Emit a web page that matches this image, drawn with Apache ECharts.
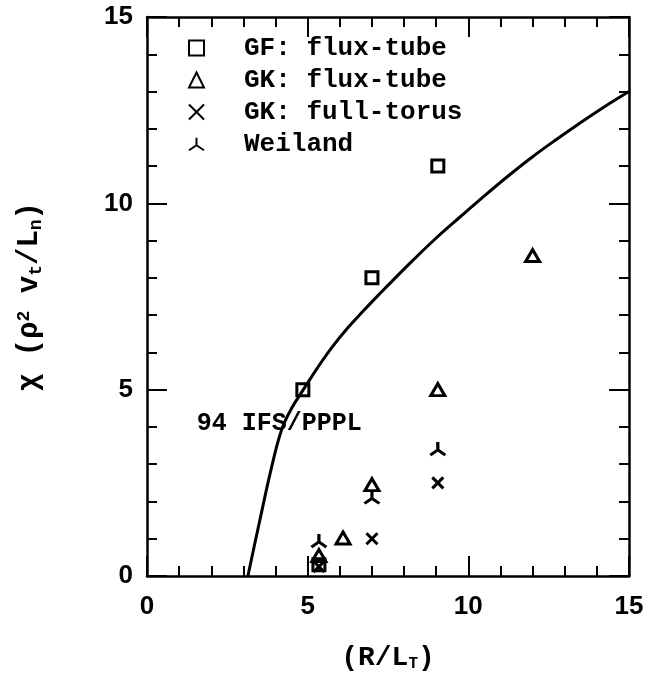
<!DOCTYPE html>
<html>
<head>
<meta charset="utf-8">
<script src="https://cdn.jsdelivr.net/npm/echarts@6/dist/echarts.min.js"></script>
<style>
  html, body { margin: 0; padding: 0; background: #fff; }
  #chart { width: 650px; height: 683px; }
</style>
</head>
<body>
<div id="chart"></div>
<script>
// Transport scaling: chi vs R/L_T

// 94 IFS/PPPL model curve
const curveX = [3.14, 3.5, 3.9, 4.2, 4.5, 4.85, 5.3, 5.75, 6.25, 6.75, 7.25, 7.75, 8.25, 9.0, 9.75, 10.5, 11.25, 12.0, 12.75, 13.5, 14.25, 15.0];
const curveY = [0.0, 1.45, 3.0, 3.95, 4.5, 4.98, 5.58, 6.13, 6.66, 7.13, 7.58, 8.02, 8.45, 9.07, 9.64, 10.2, 10.74, 11.25, 11.72, 12.17, 12.6, 13.0];

// GF: flux-tube
const gfFluxX = [4.85, 7.0, 9.05, 5.35];
const gfFluxY = [5.0, 8.0, 11.0, 0.3];

// GK: flux-tube
const gkFluxX = [5.35, 6.1, 7.0, 9.05, 12.0];
const gkFluxY = [0.55, 1.02, 2.45, 5.0, 8.6];

// GK: full-torus
const gkTorusX = [5.35, 7.0, 9.05];
const gkTorusY = [0.25, 1.0, 2.5];

// Weiland
const weilandX = [5.35, 7.0, 9.05];
const weilandY = [0.95, 2.12, 3.42];

// Axis tick labels
const xTicks = [0, 5, 10, 15];
const yTicks = [0, 5, 10, 15];

// Curve annotation
const curveLabel = '94 IFS/PPPL';
const curveLabelAt = [1.55, 4.1];

const seriesNames = ['GF: flux-tube', 'GK: flux-tube', 'GK: full-torus', 'Weiland'];

const zip = (xs, ys) => xs.map((x, i) => [x, ys[i]]);

const textFont = 'Liberation Mono';
const tickFont = 'Liberation Sans';

const markStyle = {
  color: 'rgba(0,0,0,0)',
  borderColor: '#000',
  borderWidth: 3,
  opacity: 1
};

const xSymbol = 'path://M0,0 L10,10 M10,0 L0,10';
const weilandSymbol = 'path://M6,0 L6,6 M6,6 L0,10 M6,6 L12,10';

function boxAxis(extra) {
  return Object.assign({
    type: 'value',
    min: 0,
    max: 15,
    interval: 5,
    axisLine: { show: true, onZero: false, lineStyle: { color: '#000', width: 2.5 } },
    axisTick: { show: true, inside: true, length: 20, lineStyle: { color: '#000', width: 2 } },
    minorTick: { show: true, splitNumber: 5, length: 10, lineStyle: { color: '#000', width: 2 } },
    splitLine: { show: false },
    minorSplitLine: { show: false }
  }, extra);
}

const chart = echarts.init(document.getElementById('chart'));

chart.setOption({
  backgroundColor: '#fff',
  animation: false,
  grid: { left: 147, right: 21, top: 17, bottom: 107, containLabel: false },
  legend: {
    data: seriesNames,
    orient: 'vertical',
    left: 188,
    top: 35,
    itemWidth: 15,
    itemHeight: 15,
    itemGap: 6,
    padding: 0,
    selectedMode: false,
    itemStyle: { opacity: 1 },
    textStyle: {
      fontFamily: textFont,
      fontWeight: 'bold',
      fontSize: 26,
      lineHeight: 24,
      color: '#000',
      padding: [0, 0, 0, 35]
    }
  },
  xAxis: [
    boxAxis({
      position: 'bottom',
      axisLabel: {
        show: true,
        margin: 18,
        fontFamily: tickFont,
        fontWeight: 'bold',
        fontSize: 26,
        color: '#000',
        formatter: v => (xTicks.indexOf(v) >= 0 ? String(v) : '')
      },
      name: '(R/L{sub|T})',
      nameLocation: 'middle',
      nameGap: 68,
      nameTextStyle: {
        fontFamily: textFont,
        fontWeight: 'bold',
        fontSize: 28,
        color: '#000',
        rich: {
          sub: { fontFamily: textFont, fontWeight: 'bold', fontSize: 16, verticalAlign: 'bottom', padding: [12, 0, 0, 0] }
        }
      }
    }),
    boxAxis({ position: 'top', axisLabel: { show: false } })
  ],
  yAxis: [
    boxAxis({
      position: 'left',
      axisLabel: {
        show: true,
        margin: 14,
        fontFamily: tickFont,
        fontWeight: 'bold',
        fontSize: 26,
        color: '#000',
        formatter: v => (yTicks.indexOf(v) >= 0 ? String(v) : '')
      },
      name: '{a|χ (ρ}{sup|2}{a| v}{sub|t}{a|/L}{sub|n}{a|)}',
      nameLocation: 'middle',
      nameRotate: 90,
      nameGap: 102,
      nameTextStyle: {
        color: '#000',
        rich: {
          a: { fontFamily: textFont, fontWeight: 'bold', fontSize: 29, color: '#000' },
          sup: { fontFamily: textFont, fontWeight: 'bold', fontSize: 18, color: '#000', verticalAlign: 'top', padding: [0, 0, 10, 0] },
          sub: { fontFamily: textFont, fontWeight: 'bold', fontSize: 18, color: '#000', verticalAlign: 'bottom', padding: [12, 0, 0, 0] }
        }
      }
    }),
    boxAxis({ position: 'right', axisLabel: { show: false } })
  ],
  series: [
    {
      name: 'curve',
      type: 'line',
      data: zip(curveX, curveY),
      smooth: 0.4,
      showSymbol: false,
      symbol: 'none',
      lineStyle: { color: '#000', width: 3 },
      z: 2
    },
    {
      name: seriesNames[0],
      type: 'scatter',
      symbol: 'rect',
      symbolSize: 12,
      itemStyle: markStyle,
      data: zip(gfFluxX, gfFluxY),
      z: 3
    },
    {
      name: seriesNames[1],
      type: 'scatter',
      symbol: 'triangle',
      symbolSize: [14, 12],
      itemStyle: markStyle,
      data: zip(gkFluxX, gkFluxY),
      z: 3
    },
    {
      name: seriesNames[2],
      type: 'scatter',
      symbol: xSymbol,
      symbolSize: 11,
      itemStyle: markStyle,
      data: zip(gkTorusX, gkTorusY),
      z: 3
    },
    {
      name: seriesNames[3],
      type: 'scatter',
      symbol: weilandSymbol,
      symbolSize: [15, 13],
      itemStyle: markStyle,
      data: zip(weilandX, weilandY),
      z: 3
    },
    {
      name: 'annotation',
      type: 'scatter',
      symbolSize: 0,
      data: [curveLabelAt],
      silent: true,
      itemStyle: { opacity: 1 },
      label: {
        show: true,
        position: 'right',
        distance: 0,
        formatter: curveLabel,
        fontFamily: textFont,
        fontWeight: 'bold',
        fontSize: 25,
        color: '#000',
        opacity: 1
      },
      z: 4
    }
  ]
});
</script>
</body>
</html>
